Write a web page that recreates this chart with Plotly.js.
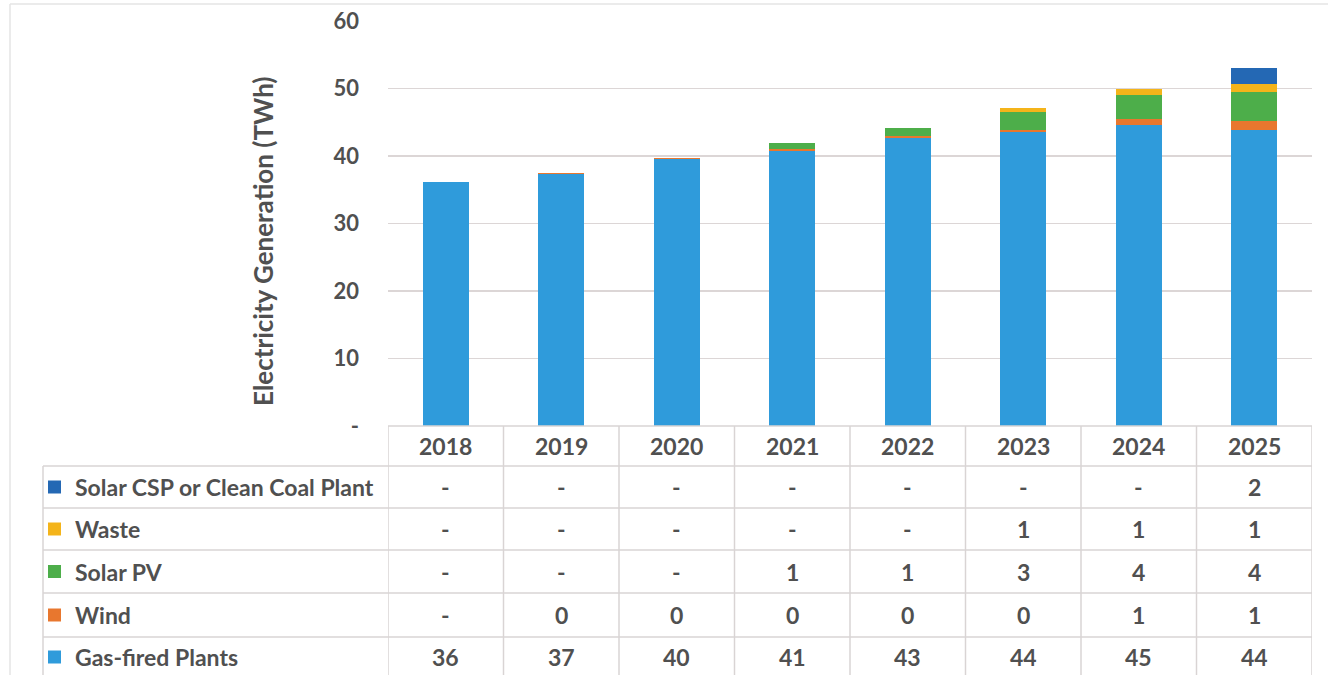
<!DOCTYPE html>
<html><head><meta charset="utf-8">
<script src="https://cdn.plot.ly/plotly-3.0.1.min.js"></script>
<style>html,body{margin:0;padding:0;background:#fff}#chart{width:1328px;height:675px}</style>
</head><body><div id="chart"></div>
<script>
// ---- data ----
const years = ['2018','2019','2020','2021','2022','2023','2024','2025'];
const gasFired = [36.2, 37.3, 39.5, 40.8, 42.6, 43.6, 44.6, 43.9];
const wind     = [0,    0.2,  0.2,  0.3,  0.3,  0.3,  0.9,  1.3];
const solarPV  = [0,    0,    0,    0.9,  1.3,  2.6,  3.6,  4.3];
const waste    = [0,    0,    0,    0,    0,    0.6,  0.9,  1.1];
const solarCSP = [0,    0,    0,    0,    0,    0,    0,    2.4];
const seriesNames = ['Gas-fired Plants','Wind','Solar PV','Waste','Solar CSP or Clean Coal Plant'];
const yTickVals = [0,10,20,30,40,50,60];
const yTickText = ['-','10','20','30','40','50','60'];
const yTitle = 'Electricity Generation (TWh)';

// ---- styling ----
const colors = ['#2F9BDB','#E8772E','#4DAE4A','#F4B41A','#2468B4'];
const series = [gasFired, wind, solarPV, waste, solarCSP];
const FONT = 'Lato, "Open Sans", sans-serif';
const TXT = '#505050';
const LINE = '#d9d4d4';
const FS = 23;
const b = s => '<b>' + s + '</b>';

// pixel helpers (plot area: x 388..1312, y 21..426)
const L = 388, R = 1312, T = 21, B = 426;
const px = x => (x - L) / (R - L);
const py = y => (B - y) / (B - T);

const traces = series.map((s, i) => ({
  type: 'bar', x: years, y: s, name: seriesNames[i],
  marker: {color: colors[i], line: {width: 0}},
  hoverinfo: 'x+y+name', showlegend: false
}));

const fmt = v => v === 0 ? '-' : String(Math.round(v));

// table rows from top to bottom
const rowOrder = [4, 3, 2, 1, 0];
const rowCenters = [487, 529, 571.5, 615, 657];
const rowLines = [466, 508, 550, 593, 637, 679];

const shapes = [];
const annotations = [];

// header year labels (x = category index on the category axis)
years.forEach((yr, j) => annotations.push({
  x: j, xref: 'x', y: py(446), yref: 'paper', text: b(yr), showarrow: false,
  font: {family: FONT, size: FS, color: TXT}, xanchor: 'center', yanchor: 'middle'
}));

// rows
rowOrder.forEach((si, r) => {
  const yc = py(rowCenters[r]);
  annotations.push({
    x: px(73), xref: 'paper', y: yc, yref: 'paper', text: b(seriesNames[si]),
    showarrow: false, xanchor: 'left', yanchor: 'middle',
    font: {family: FONT, size: FS, color: TXT}
  });
  shapes.push({type: 'rect', xref: 'paper', yref: 'paper',
    x0: px(48), x1: px(61), y0: py(rowCenters[r] - 6.5), y1: py(rowCenters[r] + 6.5),
    fillcolor: colors[si], line: {width: 0}});
  years.forEach((yr, j) => annotations.push({
    x: j, xref: 'x', y: yc, yref: 'paper', text: b(fmt(series[si][j])),
    showarrow: false, xanchor: 'center', yanchor: 'middle',
    font: {family: FONT, size: FS, color: TXT}
  }));
});

// horizontal table lines
shapes.push({type: 'line', xref: 'x', yref: 'paper', x0: -0.5, x1: 7.5, y0: 0, y1: 0, line: {color: LINE, width: 1.5}});
rowLines.forEach(y => shapes.push({type: 'line', xref: 'paper', yref: 'paper',
  x0: px(43), x1: 1, y0: py(y), y1: py(y), line: {color: LINE, width: 1.5}}));
// vertical table lines
for (let i = 0; i <= years.length; i++) {
  shapes.push({type: 'line', xref: 'x', yref: 'paper', x0: i - 0.5, x1: i - 0.5,
    y0: 0, y1: py(679), line: {color: LINE, width: 1.5}});
}
shapes.push({type: 'line', xref: 'paper', yref: 'paper', x0: px(43), x1: px(43),
  y0: py(466), y1: py(679), line: {color: LINE, width: 1.5}});
// outer frame (left / top)
shapes.push({type: 'line', xref: 'paper', yref: 'paper', x0: px(10), x1: px(10),
  y0: py(4), y1: py(680), line: {color: '#e4e4e4', width: 1.5}});
shapes.push({type: 'line', xref: 'paper', yref: 'paper', x0: px(10), x1: px(1328),
  y0: py(4), y1: py(4), line: {color: '#e4e4e4', width: 1.5}});

// y-axis title
annotations.push({
  x: px(263), xref: 'paper', y: py(241), yref: 'paper', text: b(yTitle),
  textangle: -90, showarrow: false, xanchor: 'center', yanchor: 'middle',
  font: {family: FONT, size: 26, color: TXT}
});

const layout = {
  width: 1328, height: 675,
  margin: {l: L, r: 1328 - R, t: T, b: 675 - B, pad: 0},
  paper_bgcolor: '#fff', plot_bgcolor: '#fff',
  barmode: 'stack', bargap: 0.6,
  showlegend: false,
  xaxis: {type: 'category', range: [-0.5, 7.5], showticklabels: false,
    showgrid: false, zeroline: false, showline: false, ticks: ''},
  yaxis: {range: [0, 60], tickvals: yTickVals, ticktext: yTickText.map(b),
    showgrid: true, gridcolor: '#dcd6d6', gridwidth: 1.5, zeroline: false,
    showline: false, ticks: '', ticklabelstandoff: 28,
    tickfont: {family: FONT, size: FS - 1, color: TXT}},
  shapes: shapes,
  annotations: annotations
};

Plotly.newPlot('chart', traces, layout, {displayModeBar: false, staticPlot: true});
</script>
</body></html>
